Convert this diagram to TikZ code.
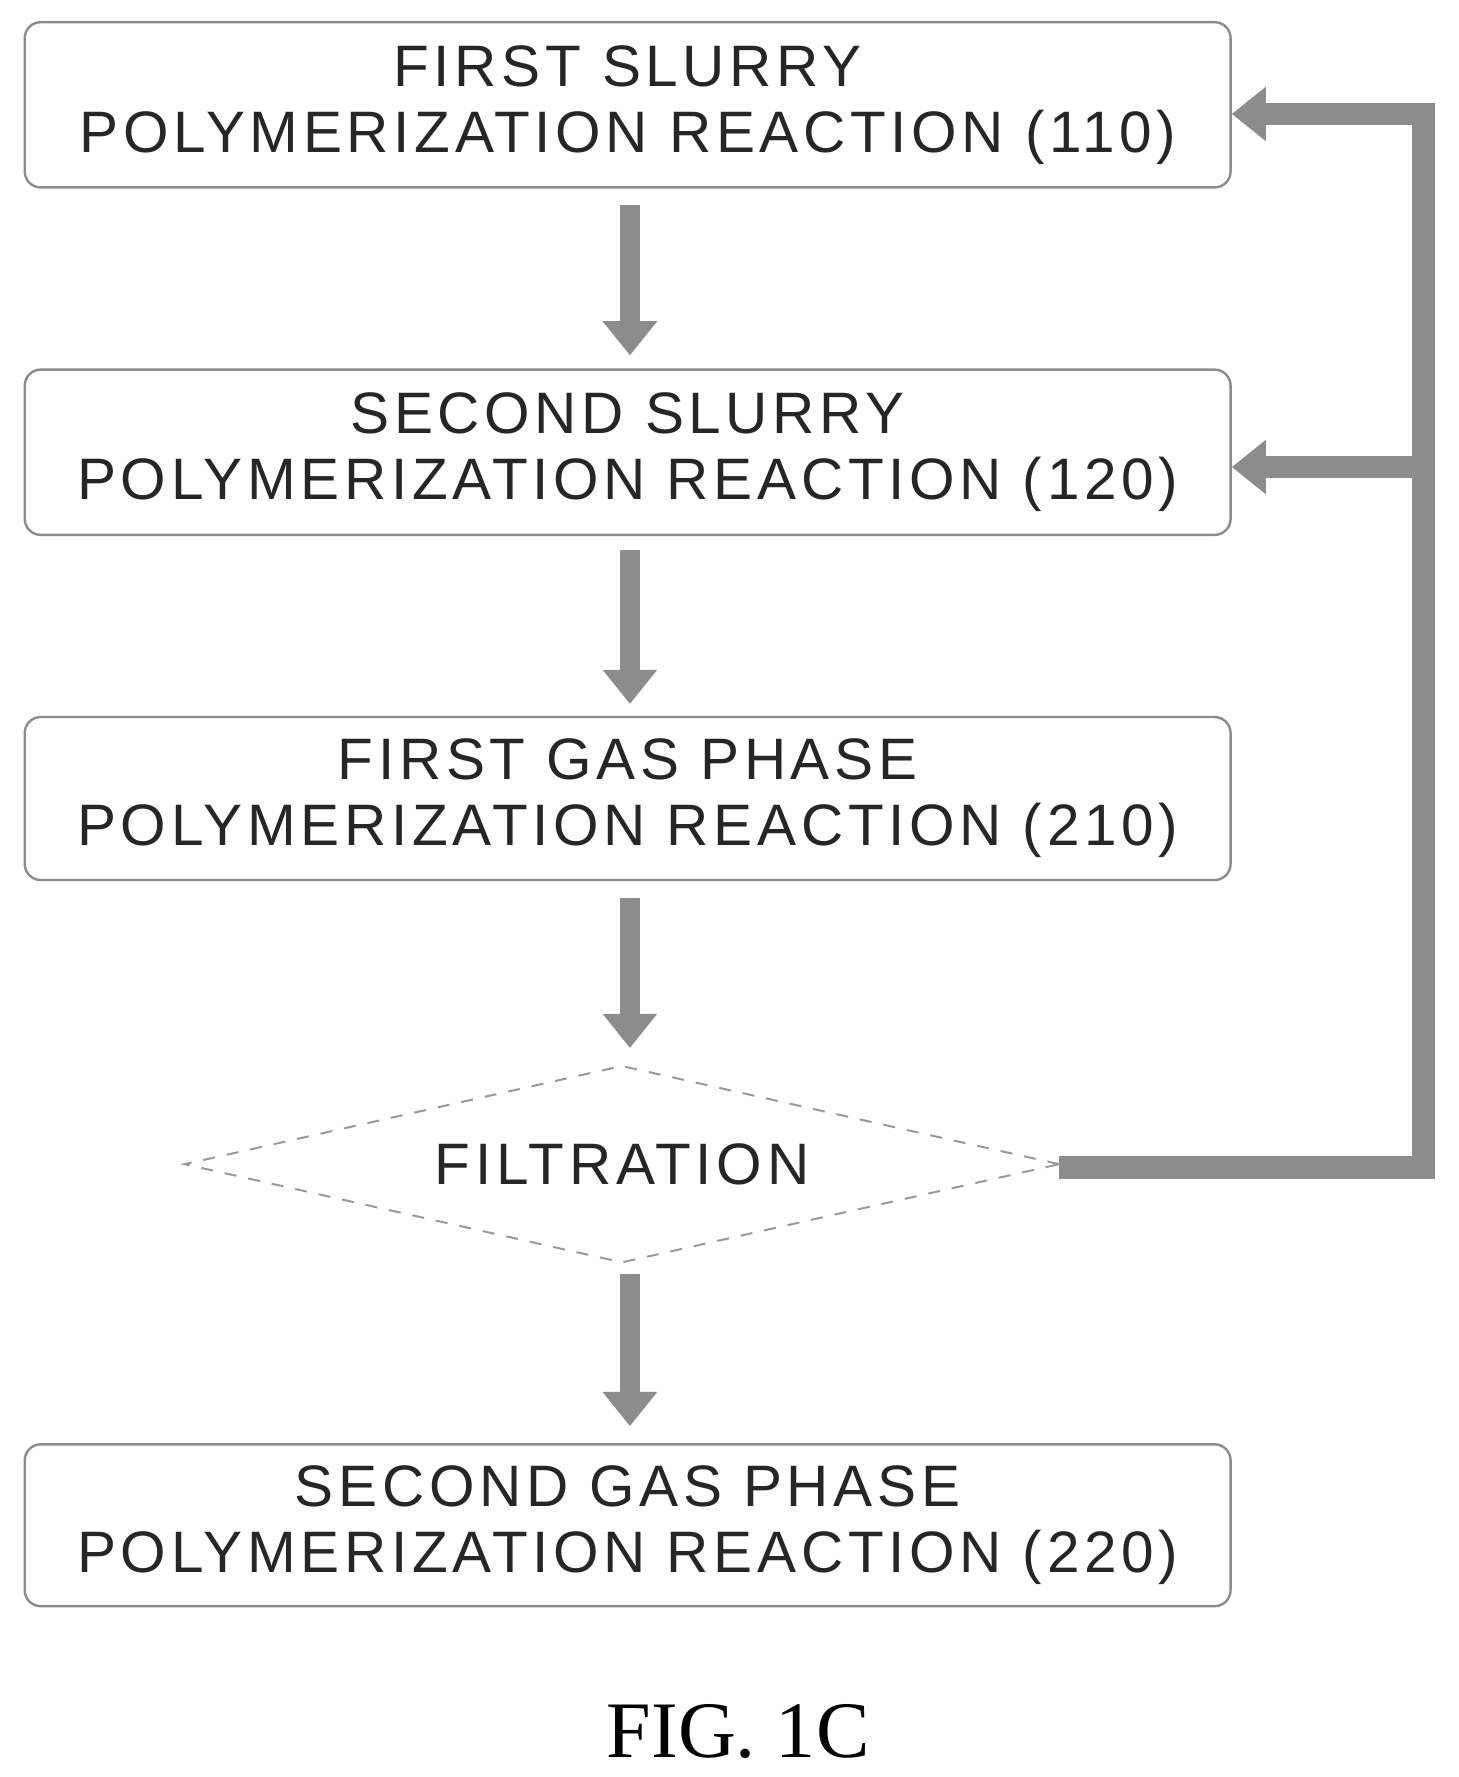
\documentclass[tikz,border=0pt]{standalone}
\usepackage{fontspec}
\setmainfont{Liberation Serif}
\newfontfamily\boxfont[LetterSpace=8]{Liberation Sans}
\usetikzlibrary{arrows.meta,shapes.geometric}
\definecolor{ag}{HTML}{8C8C8C}
\begin{document}
\begin{tikzpicture}[x=0.01cm,y=-0.01cm,
  box/.style={draw=black!45,rounded corners=4pt,line width=0.6pt,inner sep=0pt,align=center,font=\boxfont\fontsize{14.6}{16.5}\selectfont,text=black!85},
  flow/.style={draw=ag,line width=0.18cm,-{Triangle[width=0.46cm,length=0.3cm]}},
  fb/.style={draw=ag,line width=0.2cm,line join=miter}]
\useasboundingbox (0,0) rectangle (1280,1560);
\node[box,minimum width=10.58cm,minimum height=1.45cm] (b1) at (551,92) {FIRST SLURRY\\POLYMERIZATION REACTION (110)};
\node[box,minimum width=10.58cm,minimum height=1.45cm] (b2) at (551,397) {SECOND SLURRY\\POLYMERIZATION REACTION (120)};
\node[box,minimum width=10.58cm,minimum height=1.43cm] (b3) at (551,701) {FIRST GAS PHASE\\POLYMERIZATION REACTION (210)};
\node[draw=black!40,dashed,line width=0.5pt,diamond,aspect=4.44,minimum width=7.68cm,minimum height=1.73cm,inner sep=0pt,font=\boxfont\fontsize{14.6}{16.5}\selectfont,text=black!85] (d) at (546,1022) {FILTRATION};
\node[box,minimum width=10.58cm,minimum height=1.42cm] (b4) at (551,1339) {SECOND GAS PHASE\\POLYMERIZATION REACTION (220)};
\coordinate (a1s) at (553,180); \coordinate (a1e) at (553,312);
\coordinate (a2s) at (553,483); \coordinate (a2e) at (553,618);
\coordinate (a3s) at (553,788); \coordinate (a3e) at (553,920);
\coordinate (a4s) at (553,1118); \coordinate (a4e) at (553,1252);
\draw[flow] (a1s) -- (a1e);
\draw[flow] (a2s) -- (a2e);
\draw[flow] (a3s) -- (a3e);
\draw[flow] (a4s) -- (a4e);
\coordinate (c1) at (1250,1025); \coordinate (c2) at (1250,100); \coordinate (c3) at (1250,410);
\draw[fb,-{Triangle[width=0.46cm,length=0.3cm]}] (930,1025) -- (c1) -- (c2) -- (b1.east |- c2);
\draw[flow,line width=0.2cm] (c3) -- (b2.east |- c3);
\node[font=\fontsize{20}{24}\selectfont] (cap) at (648,1520) {FIG. 1C};
\end{tikzpicture}
\end{document}
